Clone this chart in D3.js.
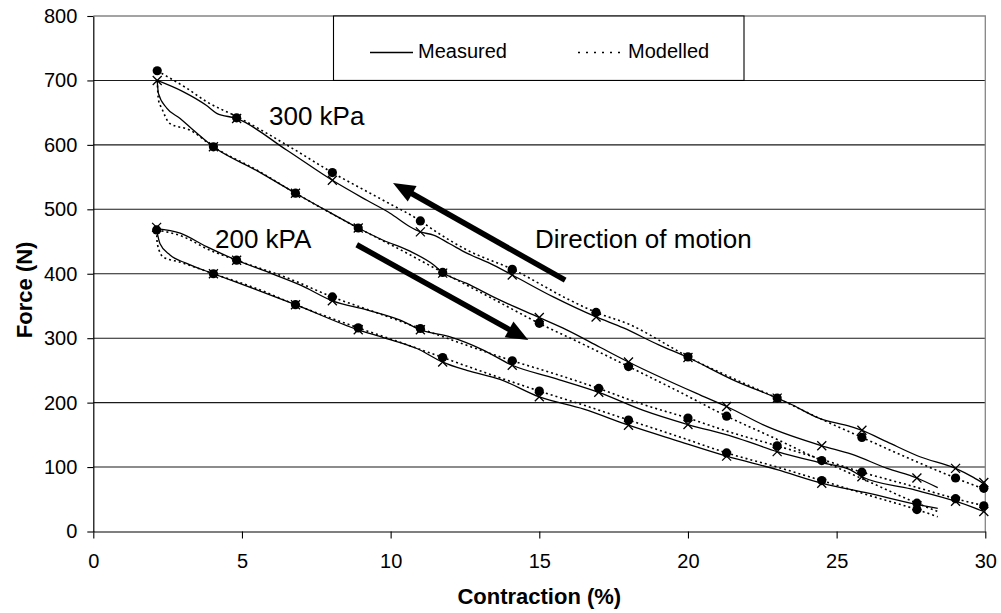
<!DOCTYPE html>
<html>
<head>
<meta charset="utf-8">
<script src="https://cdnjs.cloudflare.com/ajax/libs/d3/7.8.5/d3.min.js"></script>
<style>
body { margin: 0; background: #fff; }
text { font-family: "Liberation Sans", Arial, sans-serif; }
</style>
</head>
<body>
<div id="chart"></div>
<script>

// axis ticks
var xTicks = [0, 5, 10, 15, 20, 25, 30];
var yTicks = [0, 100, 200, 300, 400, 500, 600, 700, 800];

// curves : [contraction %, force N]
var meas300Up = [[2.15,700],[3.0,683],[3.81,661],[4.15,649],[4.82,641],[6.5,592],[8.04,545],[9.2,514],[9.98,494],[10.65,473],[11.0,465],[11.44,460],[11.97,447],[12.56,432],[13.34,416],[14.09,398],[15.47,364],[16.91,333],[17.83,316],[19.0,290],[20.0,270],[21.53,235],[23.0,207],[23.4,199],[24.4,176],[25.45,163],[25.85,157],[26.7,139],[27.8,116],[29.0,98],[29.6,84],[29.95,74]];
var mod300Up = [[2.15,715],[2.3,711],[3.14,688],[3.81,667],[4.82,644],[6.5,600],[8.04,557],[9.75,514],[11.0,482],[11.44,468],[12.56,437],[14.09,407],[16.03,359],[16.91,340],[18.05,321],[19.4,287],[20.0,271],[21.5,238],[23.0,207],[24.5,174],[25.85,146],[27.5,112],[29.0,83],[29.95,66]];
var meas300Low = [[2.15,700],[2.19,680],[2.47,657],[2.92,641],[3.36,623],[4.04,597],[5.5,560],[6.8,525],[8.0,494],[8.91,471],[9.75,452],[10.65,435],[11.44,414],[11.75,402],[12.56,385],[13.68,359],[15.0,332],[15.92,313],[17.04,286],[18.0,263],[20.4,212],[21.3,194],[22.65,163],[24.5,133],[25.5,120],[26.7,98],[27.7,83],[28.4,68]];
var mod300Low = [[2.15,700],[2.19,670],[2.3,657],[2.58,633],[3.25,623],[4.04,597],[5.5,561],[6.8,525],[8.91,471],[10.3,438],[11.75,402],[13.4,362],[15.0,323],[16.5,290],[18.0,256],[19.7,217],[21.3,179],[22.9,145],[24.5,110],[26.1,77],[27.7,44],[28.4,31]];
var meas200Up = [[2.13,470],[2.92,463],[3.81,442],[4.82,421],[5.9,402],[6.99,382],[8.04,358],[9.2,344],[10.32,328],[11.0,313],[12.0,302],[13.1,282],[14.09,258],[15.5,238],[17.0,216],[18.5,188],[20.0,166],[21.53,147],[23.0,124],[24.33,108],[25.45,96],[25.85,85],[27.5,66],[29.0,47],[29.95,31]];
var mod200Up = [[2.13,468],[3.0,458],[3.9,437],[4.82,421],[6.5,394],[8.04,364],[9.5,340],[11.0,315],[12.5,290],[14.09,265],[15.5,245],[17.0,222],[18.5,197],[20.0,176],[21.5,153],[23.0,133],[24.5,112],[25.85,92],[27.5,71],[29.0,51],[29.95,40]];
var meas200Low = [[2.13,468],[2.24,447],[2.58,429],[3.14,416],[4.04,400],[5.5,375],[6.8,352],[8.91,313],[9.75,301],[10.88,284],[11.75,263],[12.56,250],[13.68,236],[15.0,209],[16.5,190],[18.0,165],[19.7,140],[21.3,117],[23.0,96],[24.5,75],[26.1,59],[27.7,42],[28.4,36]];
var mod200Low = [[2.13,468],[2.15,447],[2.35,426],[2.92,418],[4.04,400],[5.5,377],[6.8,352],[8.91,316],[10.3,294],[11.75,270],[13.4,243],[15.0,218],[16.5,196],[18.0,173],[19.7,147],[21.3,122],[23.0,100],[24.5,79],[26.1,56],[27.7,34],[28.4,23]];

// sample markers : crosses on measured, dots on modelled
var cross300Up = [[2.15,700],[4.82,641],[8.04,545],[11.0,465],[14.09,398],[16.91,333],[20.0,270],[23.0,207],[25.85,157],[29.0,98],[29.95,76]];
var dot300Up = [[2.15,715],[4.82,642],[8.04,557],[11.0,482],[14.09,407],[16.91,340],[20.0,271],[23.0,207],[25.85,146],[29.0,83],[29.95,67]];
var cross300Low = [[4.04,597],[6.8,525],[8.91,471],[11.75,401],[15.0,332],[18.0,263],[21.3,194],[24.5,133],[27.7,83]];
var dot300Low = [[4.04,597],[6.8,525],[8.91,471],[11.75,402],[15.0,323],[18.0,256],[21.3,179],[24.5,110],[27.7,44]];
var cross200Up = [[2.13,472],[4.82,421],[8.04,358],[11.0,313],[14.09,258],[17.0,216],[20.0,166],[23.0,124],[25.85,85],[29.0,47],[29.95,31]];
var dot200Up = [[2.13,468],[4.82,421],[8.04,364],[11.0,315],[14.09,265],[17.0,222],[20.0,176],[23.0,133],[25.85,92],[29.0,51],[29.95,40]];
var cross200Low = [[4.04,400],[6.8,352],[8.91,313],[11.75,263],[15.0,209],[18.0,165],[21.3,117],[24.5,75],[27.7,40]];
var dot200Low = [[4.04,400],[6.8,352],[8.91,316],[11.75,270],[15.0,218],[18.0,173],[21.3,122],[24.5,79],[27.7,34]];

// direction arrows, tail then tip
var arrowBack = [[15.87,390],[10.08,541]];
var arrowFwd = [[8.86,445],[14.63,297]];

var W = 1001, H = 613;
var margin = {left: 93.3, top: 16, right: 15.7, bottom: 81.5};

var svg = d3.select("#chart").append("svg")
	.attr("width", W)
	.attr("height", H);

var x = d3.scaleLinear().domain([0, 30]).range([margin.left, W - margin.right]);
var y = d3.scaleLinear().domain([0, 800]).range([H - margin.bottom, margin.top]);

// gridlines
svg.append("g").selectAll("line")
	.data(yTicks.filter(function(d) { return d > 0 && d < 800; }))
	.enter()
	.append("line")
	.attr("x1", x(0)).attr("x2", x(30))
	.attr("y1", function(d) { return y(d); })
	.attr("y2", function(d) { return y(d); })
	.attr("stroke", "#1a1a1a")
	.attr("stroke-width", 1.1);

// plot frame top / right
svg.append("path")
	.attr("d", "M" + x(0) + "," + y(800) + "H" + x(30) + "V" + y(0))
	.attr("fill", "none")
	.attr("stroke", "#858585")
	.attr("stroke-width", 1.3);

// axes
var xAxis = svg.append("g")
	.attr("transform", "translate(0," + y(0) + ")")
	.call(d3.axisBottom(x).tickValues(xTicks).tickSize(7).tickSizeOuter(0).tickPadding(15));
var yAxis = svg.append("g")
	.attr("transform", "translate(" + x(0) + ",0)")
	.call(d3.axisLeft(y).tickValues(yTicks).tickSize(6).tickSizeOuter(0).tickPadding(10));

[xAxis, yAxis].forEach(function(g) {
	g.attr("font-size", 20).attr("font-family", "Liberation Sans, Arial, sans-serif");
	g.select(".domain").attr("stroke", "#000").attr("stroke-width", 1.2);
	g.selectAll(".tick line").attr("stroke", "#000").attr("stroke-width", 1.1);
	g.selectAll(".tick text").attr("fill", "#000");
});

svg.append("text")
	.attr("x", (x(0) + x(30)) / 2)
	.attr("y", 604)
	.attr("text-anchor", "middle")
	.attr("font-size", 22)
	.attr("font-weight", "bold")
	.text("Contraction (%)");

svg.append("text")
	.attr("transform", "translate(32," + y(375) + ") rotate(-90)")
	.attr("text-anchor", "middle")
	.attr("font-size", 22)
	.attr("font-weight", "bold")
	.text("Force (N)");

// curves
var line = d3.line()
	.x(function(d) { return x(d[0]); })
	.y(function(d) { return y(d[1]); })
	.curve(d3.curveMonotoneX);

var curves = [
	{pts: meas300Up, dash: null}, {pts: mod300Up, dash: "2,3"},
	{pts: meas300Low, dash: null}, {pts: mod300Low, dash: "2,3"},
	{pts: meas200Up, dash: null}, {pts: mod200Up, dash: "2,3"},
	{pts: meas200Low, dash: null}, {pts: mod200Low, dash: "2,3"}
];

svg.append("g").selectAll("path")
	.data(curves)
	.enter()
	.append("path")
	.attr("d", function(d) { return line(d.pts); })
	.attr("fill", "none")
	.attr("stroke", "#000")
	.attr("stroke-width", function(d) { return d.dash ? 1.6 : 1.3; })
	.attr("stroke-dasharray", function(d) { return d.dash; });

// markers
var crosses = [].concat(cross300Up, cross300Low, cross200Up, cross200Low);
var dots = [].concat(dot300Up, dot300Low, dot200Up, dot200Low);

svg.append("g").selectAll("path")
	.data(crosses)
	.enter()
	.append("path")
	.attr("d", function(d) {
		var cx = x(d[0]), cy = y(d[1]), s = 4.5;
		return "M" + (cx - s) + "," + (cy - s) + "L" + (cx + s) + "," + (cy + s) +
			"M" + (cx - s) + "," + (cy + s) + "L" + (cx + s) + "," + (cy - s);
	})
	.attr("stroke", "#000")
	.attr("stroke-width", 1.3);

svg.append("g").selectAll("circle")
	.data(dots)
	.enter()
	.append("circle")
	.attr("cx", function(d) { return x(d[0]); })
	.attr("cy", function(d) { return y(d[1]); })
	.attr("r", 4.6)
	.attr("fill", "#000");

// arrows
function drawArrow(a) {
	var x0 = x(a[0][0]), y0 = y(a[0][1]), x1 = x(a[1][0]), y1 = y(a[1][1]);
	var len = Math.sqrt((x1 - x0) * (x1 - x0) + (y1 - y0) * (y1 - y0));
	var ux = (x1 - x0) / len, uy = (y1 - y0) / len;
	var hl = 22, hw = 9;
	var bx = x1 - ux * hl, by = y1 - uy * hl;
	svg.append("line")
		.attr("x1", x0).attr("y1", y0)
		.attr("x2", bx + ux * 2).attr("y2", by + uy * 2)
		.attr("stroke", "#000")
		.attr("stroke-width", 5.5);
	svg.append("path")
		.attr("d", "M" + x1 + "," + y1 +
			"L" + (bx - uy * hw) + "," + (by + ux * hw) +
			"L" + (bx + uy * hw) + "," + (by - ux * hw) + "Z")
		.attr("fill", "#000");
}
drawArrow(arrowBack);
drawArrow(arrowFwd);

// annotations
svg.append("text").attr("x", 269).attr("y", 125).attr("font-size", 26).text("300 kPa");
svg.append("text").attr("x", 215).attr("y", 248).attr("font-size", 26).text("200 kPA");
svg.append("text").attr("x", 535).attr("y", 248).attr("font-size", 26).text("Direction of motion");

// legend
var leg = svg.append("g");
leg.append("rect")
	.attr("x", 333.5).attr("y", y(800))
	.attr("width", 410.5).attr("height", y(700) - y(800))
	.attr("fill", "#fff")
	.attr("stroke", "#000")
	.attr("stroke-width", 1.1);
leg.append("line")
	.attr("x1", 370).attr("x2", 413).attr("y1", 52.5).attr("y2", 52.5)
	.attr("stroke", "#000").attr("stroke-width", 1.3);
leg.append("text").attr("x", 418).attr("y", 57.5).attr("font-size", 20).text("Measured");
leg.append("line")
	.attr("x1", 578).attr("x2", 625).attr("y1", 52.5).attr("y2", 52.5)
	.attr("stroke", "#000").attr("stroke-width", 1.6)
	.attr("stroke-dasharray", "2,6");
leg.append("text").attr("x", 628).attr("y", 57.5).attr("font-size", 20).text("Modelled");

</script>
</body>
</html>
